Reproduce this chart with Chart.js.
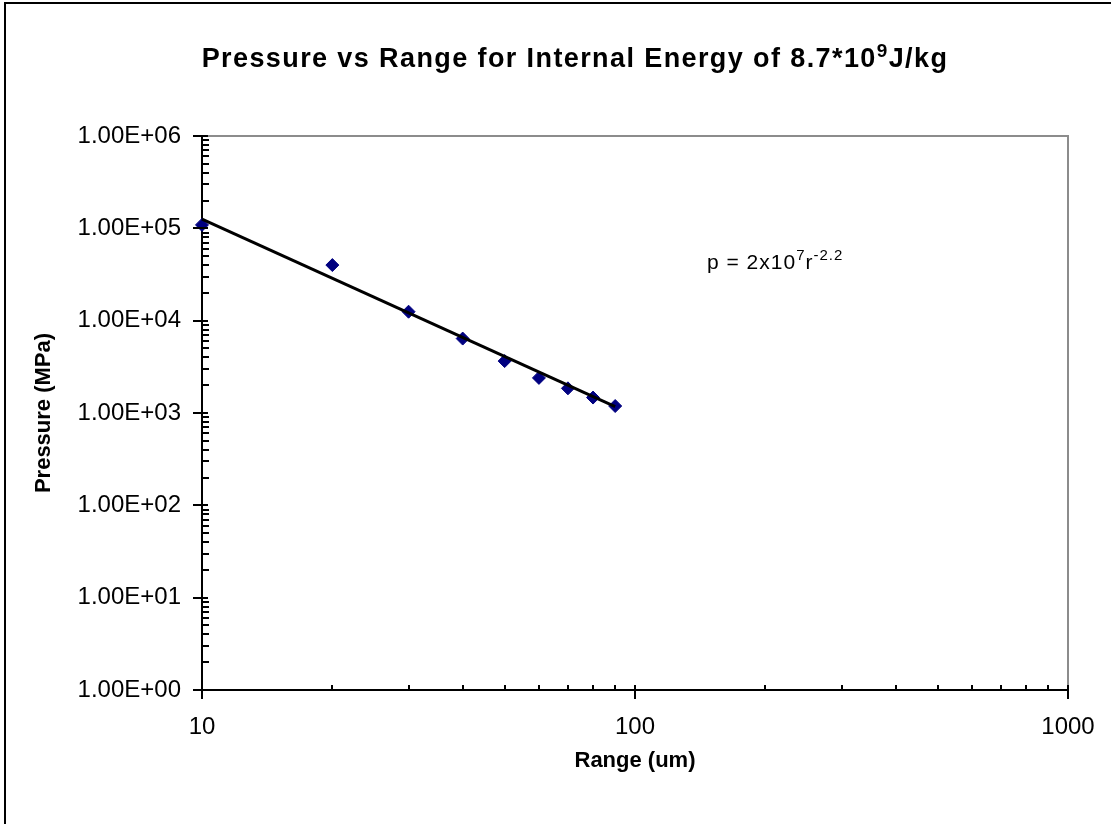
<!DOCTYPE html>
<html>
<head>
<meta charset="utf-8">
<script src="https://cdn.jsdelivr.net/npm/chart.js@4.4.0/dist/chart.umd.min.js"></script>
<style>
    html, body { margin: 0; padding: 0; background: #fff; }
</style>
</head>
<body>
<canvas id="PressureCanvas" width="1111" height="824"></canvas>
<script>
let rangeUm = [10, 20, 30, 40, 50, 60, 70, 80, 90];
let pressureMPa = [109000, 40000, 12500, 6400, 3650, 2400, 1850, 1470, 1190];

// power trend line, its two end points
let trendRange = [10, 90];
let trendPressure = [126000, 1170];

// tick labels, one per decade
let xTickLabels = ['10', '100', '1000'];
let yTickLabels = ['1.00E+00', '1.00E+01', '1.00E+02', '1.00E+03', '1.00E+04', '1.00E+05', '1.00E+06'];

const FONT = '"Liberation Sans", Arial, sans-serif';

//---------------------- HELPERS

function decade(value) {
    const e = Math.log10(value);
    return Math.abs(e - Math.round(e)) < 1e-9 ? Math.round(e) : null;
}

// 2..9 times a power of ten, nothing else (log scale also makes 15, 150 ...)
function isMinor(value) {
    const e = Math.floor(Math.log10(value) + 1e-9);
    const s = value / Math.pow(10, e);
    return Math.abs(s - Math.round(s)) < 1e-9 && Math.round(s) >= 2 && Math.round(s) <= 9;
}

function drawRich(ctx, parts, x, y, align) {
    // parts: [text, font, raise]
    let total = 0;
    parts.forEach(p => { ctx.font = p[1]; total += ctx.measureText(p[0]).width; });
    let cx = align === 'center' ? x - total / 2 : x;
    parts.forEach(p => {
        ctx.font = p[1];
        ctx.fillText(p[0], cx, y - p[2]);
        cx += ctx.measureText(p[0]).width;
    });
}

//---------------------- PLUGIN

const decorPlugin = {
    id: 'decor',
    afterDraw(chart) {
        const ctx = chart.ctx;
        const area = chart.chartArea;
        const xs = chart.scales.x;
        const ys = chart.scales.y;
        ctx.save();

        // outer frame (only top and left are inside the picture)
        ctx.strokeStyle = '#000';
        ctx.lineWidth = 2;
        ctx.beginPath();
        ctx.moveTo(5, 830);
        ctx.lineTo(5, 3);
        ctx.lineTo(1120, 3);
        ctx.stroke();

        // grey top and right edge of the plot area
        ctx.strokeStyle = '#8c8c8c';
        ctx.beginPath();
        ctx.moveTo(area.left, area.top);
        ctx.lineTo(area.right, area.top);
        ctx.lineTo(area.right, area.bottom);
        ctx.stroke();

        // ticks: majors cross the axis, minors point inwards
        ctx.strokeStyle = '#000';
        ctx.lineWidth = 2;
        ctx.beginPath();
        xs.ticks.forEach(t => {
            const px = Math.round(xs.getPixelForValue(t.value));
            if (decade(t.value) !== null) {
                ctx.moveTo(px, area.bottom - 5);
                ctx.lineTo(px, area.bottom + 9);
            } else if (isMinor(t.value)) {
                ctx.moveTo(px, area.bottom);
                ctx.lineTo(px, area.bottom - 5);
            }
        });
        ys.ticks.forEach(t => {
            const py = Math.round(ys.getPixelForValue(t.value));
            if (decade(t.value) !== null) {
                ctx.moveTo(area.left - 9, py);
                ctx.lineTo(area.left + 6, py);
            } else if (isMinor(t.value)) {
                ctx.moveTo(area.left, py);
                ctx.lineTo(area.left + 7, py);
            }
        });
        ctx.stroke();

        // chart title with superscript
        ctx.fillStyle = '#000';
        ctx.textBaseline = 'alphabetic';
        ctx.textAlign = 'left';
        ctx.letterSpacing = '1.4px';
        drawRich(ctx, [
            ['Pressure vs Range for Internal Energy of 8.7*10', 'bold 27px ' + FONT, 0],
            ['9', 'bold 19px ' + FONT, 10],
            ['J/kg', 'bold 27px ' + FONT, 0]
        ], 575, 67, 'center');

        // fit equation text box
        ctx.letterSpacing = '1px';
        drawRich(ctx, [
            ['p = 2x10', '21px ' + FONT, 0],
            ['7', '15px ' + FONT, 9],
            ['r', '21px ' + FONT, 0],
            ['-2.2', '15px ' + FONT, 9]
        ], 707, 269, 'left');

        ctx.restore();
    }
};

//---------------------- CHART

const scatterData = rangeUm.map((r, i) => ({ x: r, y: pressureMPa[i] }));
const trendData = trendRange.map((r, i) => ({ x: r, y: trendPressure[i] }));

let myChartPressure = new Chart(document.getElementById('PressureCanvas').getContext('2d'), {
    type: 'scatter',
    data: {
        datasets: [
            {
                type: 'line',
                label: 'Power trend',
                data: trendData,
                borderColor: '#000',
                borderWidth: 3,
                pointRadius: 0,
                fill: false,
                order: 0,
                clip: false
            },
            {
                label: 'Pressure',
                data: scatterData,
                pointStyle: 'rectRot',
                pointRadius: 6.5,
                borderWidth: 1,
                backgroundColor: '#000080',
                borderColor: '#000080',
                order: 1,
                clip: false
            }
        ]
    },
    options: {
        responsive: false,
        animation: false,
        devicePixelRatio: 1,
        layout: { padding: { top: 136, right: 43, left: 0, bottom: 0 } },
        plugins: {
            legend: { display: false },
            tooltip: { enabled: false },
            title: { display: false }
        },
        scales: {
            x: {
                type: 'logarithmic',
                position: 'bottom',
                min: 10,
                max: 1000,
                grid: { display: false, drawTicks: false },
                border: { display: true, color: '#000', width: 2 },
                ticks: {
                    autoSkip: false,
                    maxRotation: 0,
                    padding: 23,
                    color: '#000',
                    font: { family: FONT, size: 24 },
                    callback: v => {
                        const e = decade(v);
                        return e === null ? '' : xTickLabels[e - 1];
                    }
                },
                title: {
                    display: true,
                    text: 'Range (um)',
                    color: '#000',
                    font: { family: FONT, size: 22, weight: 'bold' },
                    padding: { top: 0, bottom: 50 }
                },
                afterFit: scale => {
                    scale.height = 134;
                    scale.paddingLeft = 0;
                    scale.paddingRight = 0;
                }
            },
            y: {
                type: 'logarithmic',
                position: 'left',
                min: 1,
                max: 1000000,
                grid: { display: false, drawTicks: false },
                border: { display: true, color: '#000', width: 2 },
                ticks: {
                    autoSkip: false,
                    padding: 21,
                    color: '#000',
                    font: { family: FONT, size: 24 },
                    callback: v => {
                        const e = decade(v);
                        return e === null ? '' : yTickLabels[e];
                    }
                },
                title: {
                    display: true,
                    text: 'Pressure (MPa)',
                    color: '#000',
                    font: { family: FONT, size: 22, weight: 'bold' },
                    padding: { top: 31, bottom: 0 }
                },
                afterFit: scale => { scale.width = 202; }
            }
        }
    },
    plugins: [decorPlugin]
});
</script>
</body>
</html>
